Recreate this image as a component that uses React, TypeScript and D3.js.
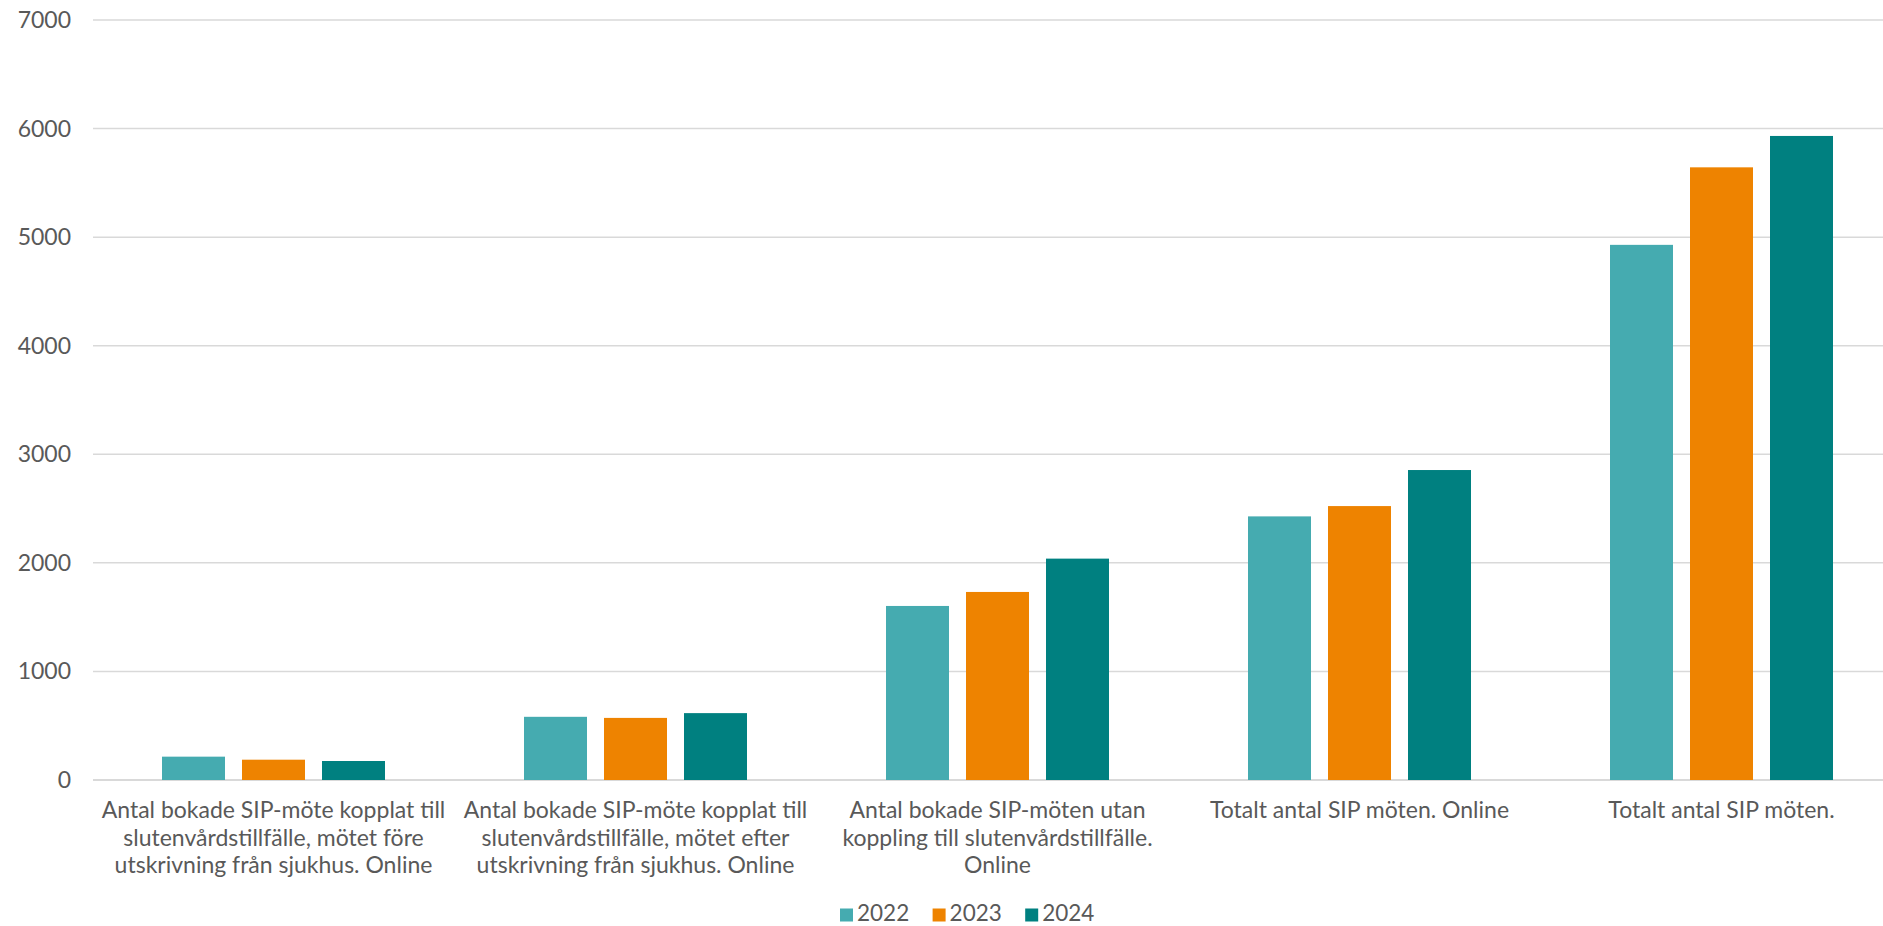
import React from "react";
import * as d3 from "d3";

const categories: string[][] = [
  ["Antal bokade SIP-möte kopplat till", "slutenvårdstillfälle, mötet före", "utskrivning från sjukhus. Online"],
  ["Antal bokade SIP-möte kopplat till", "slutenvårdstillfälle, mötet efter", "utskrivning från sjukhus. Online"],
  ["Antal bokade SIP-möten utan", "koppling till slutenvårdstillfälle.", "Online"],
  ["Totalt antal SIP möten. Online"],
  ["Totalt antal SIP möten."],
];
const seriesNames = ["2022", "2023", "2024"];
const values2022 = [215, 582, 1603, 2428, 4929];
const values2023 = [187, 572, 1732, 2523, 5643];
const values2024 = [175, 616, 2039, 2855, 5932];
const seriesValues = [values2022, values2023, values2024];
const colors = ["#45ABB0", "#EE8300", "#008080"];
const yTicks = [0, 1000, 2000, 3000, 4000, 5000, 6000, 7000];

const W = 1883;
const H = 926;
const FONT = "Lato, 'Liberation Sans', sans-serif";
const TEXT = "#595959";

export default function App() {
  const x = d3.scaleBand<number>().domain(d3.range(categories.length)).range([92.5, 1902.5]);
  const y = d3.scaleLinear().domain([0, 7000]).range([780, 20]);
  const bw = x.bandwidth();
  const barW = 63;
  const step = 80;
  return (
    <div style={{ position: "fixed", left: 0, top: 0 }}>
      <svg width={W} height={H} style={{ display: "block", background: "#fff" }}>
        {yTicks.map((t) => (
          <g key={t}>
            <line x1={93} x2={W} y1={y(t)} y2={y(t)} stroke="#D9D9D9" strokeWidth={t === 0 ? 2 : 1.5} />
            <text x={71} y={y(t)} dy="0.35em" textAnchor="end" fontFamily={FONT} fontSize={23} fill={TEXT}>
              {t}
            </text>
          </g>
        ))}
        {seriesValues.map((vals, si) =>
          vals.map((v, ci) => {
            const cx = (x(ci) as number) + bw / 2 + (si - 1) * step;
            return (
              <rect
                key={`${si}-${ci}`}
                x={cx - barW / 2}
                y={y(v)}
                width={barW}
                height={y(0) - y(v)}
                fill={colors[si]}
              />
            );
          })
        )}
        {categories.map((lines, ci) => (
          <text key={ci} textAnchor="middle" fontFamily={FONT} fontSize={23} fill={TEXT}>
            {lines.map((l, li) => (
              <tspan key={li} x={(x(ci) as number) + bw / 2} y={818 + li * 27.6}>
                {l}
              </tspan>
            ))}
          </text>
        ))}
        {seriesNames.map((s, si) => (
          <g key={s} transform={`translate(${840 + si * 92.6},0)`}>
            <rect x={0} y={908.5} width={13} height={13} fill={colors[si]} />
            <text x={17} y={921} fontFamily={FONT} fontSize={22.5} fill={TEXT}>
              {s}
            </text>
          </g>
        ))}
      </svg>
    </div>
  );
}
